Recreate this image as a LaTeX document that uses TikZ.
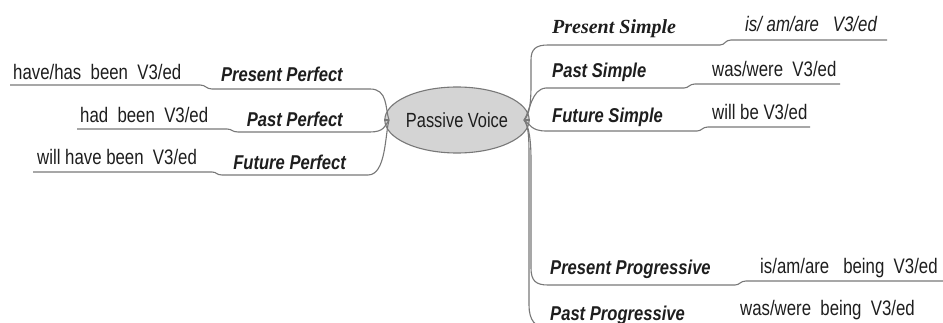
\documentclass[tikz,border=0pt]{standalone}
\usepackage{fontspec}
\setmainfont{Liberation Sans}
\newfontfamily\leaffont[FakeStretch=0.8]{Liberation Sans}
\newfontfamily\labfont[FakeStretch=0.83]{Liberation Sans}
\newfontfamily\serlabfont{Liberation Serif}
\usetikzlibrary{shapes.geometric}
\definecolor{linegray}{RGB}{120,120,120}
\definecolor{txtcol}{RGB}{30,30,30}
\definecolor{ellfill}{RGB}{212,212,212}
\begin{document}
\begin{tikzpicture}[x=1pt,y=-1pt,
  conn/.style={draw=linegray, line width=1.1pt},
  leaf/.style={inner sep=0pt, text=txtcol, font=\leaffont\fontsize{21pt}{24pt}\selectfont},
  leafit/.style={inner sep=0pt, text=txtcol, font=\leaffont\itshape\fontsize{21pt}{24pt}\selectfont},
  lab/.style={inner sep=0pt, text=txtcol, font=\labfont\bfseries\itshape\fontsize{20pt}{24pt}\selectfont},
  serlab/.style={inner sep=0pt, text=txtcol, font=\serlabfont\bfseries\itshape\fontsize{20pt}{24pt}\selectfont}]
\useasboundingbox (0,0) rectangle (943,323);
\fill[white] (0,0) rectangle (943,323);
\clip (0,0) rectangle (943,323);

% centre
\node[ellipse, draw=linegray, line width=1.1pt, fill=ellfill, minimum width=127pt, minimum height=66pt, inner sep=0pt,
      text=txtcol, font=\leaffont\fontsize{20.5pt}{24pt}\selectfont] (pv) at (457,120) {Passive Voice};
\coordinate (jl) at (389,120);
\coordinate (jr) at (524,120);
\draw[conn] (pv.west) -- (jl);
\draw[conn] (pv.east) -- (jr);

% left labels
\node[lab, anchor=base east] (ppl) at (343,82) {Present Perfect};
\node[lab, anchor=base east] (papl) at (343,127) {Past Perfect};
\node[lab, anchor=base east] (fpl) at (346,170) {Future Perfect};
\node[leaf, anchor=base west] (ppt) at (13,80) {have/has\ \ been\ \ V3/ed};
\node[leaf, anchor=base west] (papt) at (80,123) {had\ \ been\ \ V3/ed};
\node[leaf, anchor=base west] (fpt) at (37,165) {will have been\ \ V3/ed};

% left connectors
\coordinate (ppA) at (370,89);  \coordinate (ppB) at (212,89);  \coordinate (ppC) at (200,85);  \coordinate (ppD) at (10,85);
\coordinate (papA) at (370,132); \coordinate (papB) at (238,132); \coordinate (papC) at (227,129); \coordinate (papD) at (77,129);
\coordinate (fpA) at (368,175);  \coordinate (fpB) at (222,175);  \coordinate (fpC) at (212,172);  \coordinate (fpD) at (33,172);
\draw[conn] (jl) .. controls (385,108) and (388,89) .. (ppA) -- (ppB) .. controls (206,89) and (206,85) .. (ppC) -- (ppD);
\draw[conn] (jl) .. controls (385,126) and (384,132) .. (papA) -- (papB) .. controls (232,132) and (232,129) .. (papC) -- (papD);
\draw[conn] (jl) .. controls (385,135) and (386,175) .. (fpA) -- (fpB) .. controls (216,175) and (217,172) .. (fpC) -- (fpD);

% right labels
\node[serlab, anchor=base west] (psl) at (552,34) {Present Simple};
\node[lab, anchor=base west] (pasl) at (552,78) {Past Simple};
\node[lab, anchor=base west] (fsl) at (552,123) {Future Simple};
\node[lab, anchor=base west] (prpl) at (550,275) {Present Progressive};
\node[lab, anchor=base west] (paprl) at (550,320) {Past Progressive};
\node[leafit, anchor=base west] (pst) at (745,32) {is/ am/are\ \ \ V3/ed};
\node[leaf, anchor=base west] (past) at (712,77) {was/were\ \ V3/ed};
\node[leaf, anchor=base west] (fst) at (712,120) {will be V3/ed};
\node[leaf, anchor=base west] (prpt) at (760,273) {is/am/are\ \ \ being\ \ V3/ed};
\node[leaf, anchor=base west] (paprt) at (740,316) {was/were\ \ being\ \ V3/ed};

% right connectors
\coordinate (psA) at (548,45);   \coordinate (psB) at (720,45);   \coordinate (psC) at (731,40);   \coordinate (psD) at (887,40);
\coordinate (pasA) at (546,88);  \coordinate (pasB) at (684,88);  \coordinate (pasC) at (695,84);  \coordinate (pasD) at (840,84);
\coordinate (fsA) at (546,131);  \coordinate (fsB) at (697,131);  \coordinate (fsC) at (708,127);  \coordinate (fsD) at (810,127);
\coordinate (prpA) at (548,285); \coordinate (prpB) at (735,285); \coordinate (prpC) at (746,281); \coordinate (prpD) at (943,281);
\coordinate (paprA) at (548,328); \coordinate (paprD) at (720,328);
\draw[conn] (jr) .. controls (530,115) and (531,100) .. (531,85) -- (531,60) .. controls (531,49) and (536,45) .. (psA) -- (psB) .. controls (725,45) and (725,40) .. (psC) -- (psD);
\draw[conn] (jr) .. controls (530,112) and (531,89) .. (pasA) -- (pasB) .. controls (689,88) and (689,84) .. (pasC) -- (pasD);
\draw[conn] (jr) .. controls (530,124) and (531,131) .. (fsA) -- (fsB) .. controls (702,131) and (702,127) .. (fsC) -- (fsD);
\draw[conn] (jr) .. controls (529,126) and (531,140) .. (531,160) -- (531,268) .. controls (531,281) and (536,285) .. (prpA) -- (prpB) .. controls (740,285) and (740,281) .. (prpC) -- (prpD);
\draw[conn] (jr) .. controls (529,126) and (529,140) .. (529,160) -- (529,305) .. controls (529,320) and (535,328) .. (paprA) -- (paprD);
\end{tikzpicture}
\end{document}
